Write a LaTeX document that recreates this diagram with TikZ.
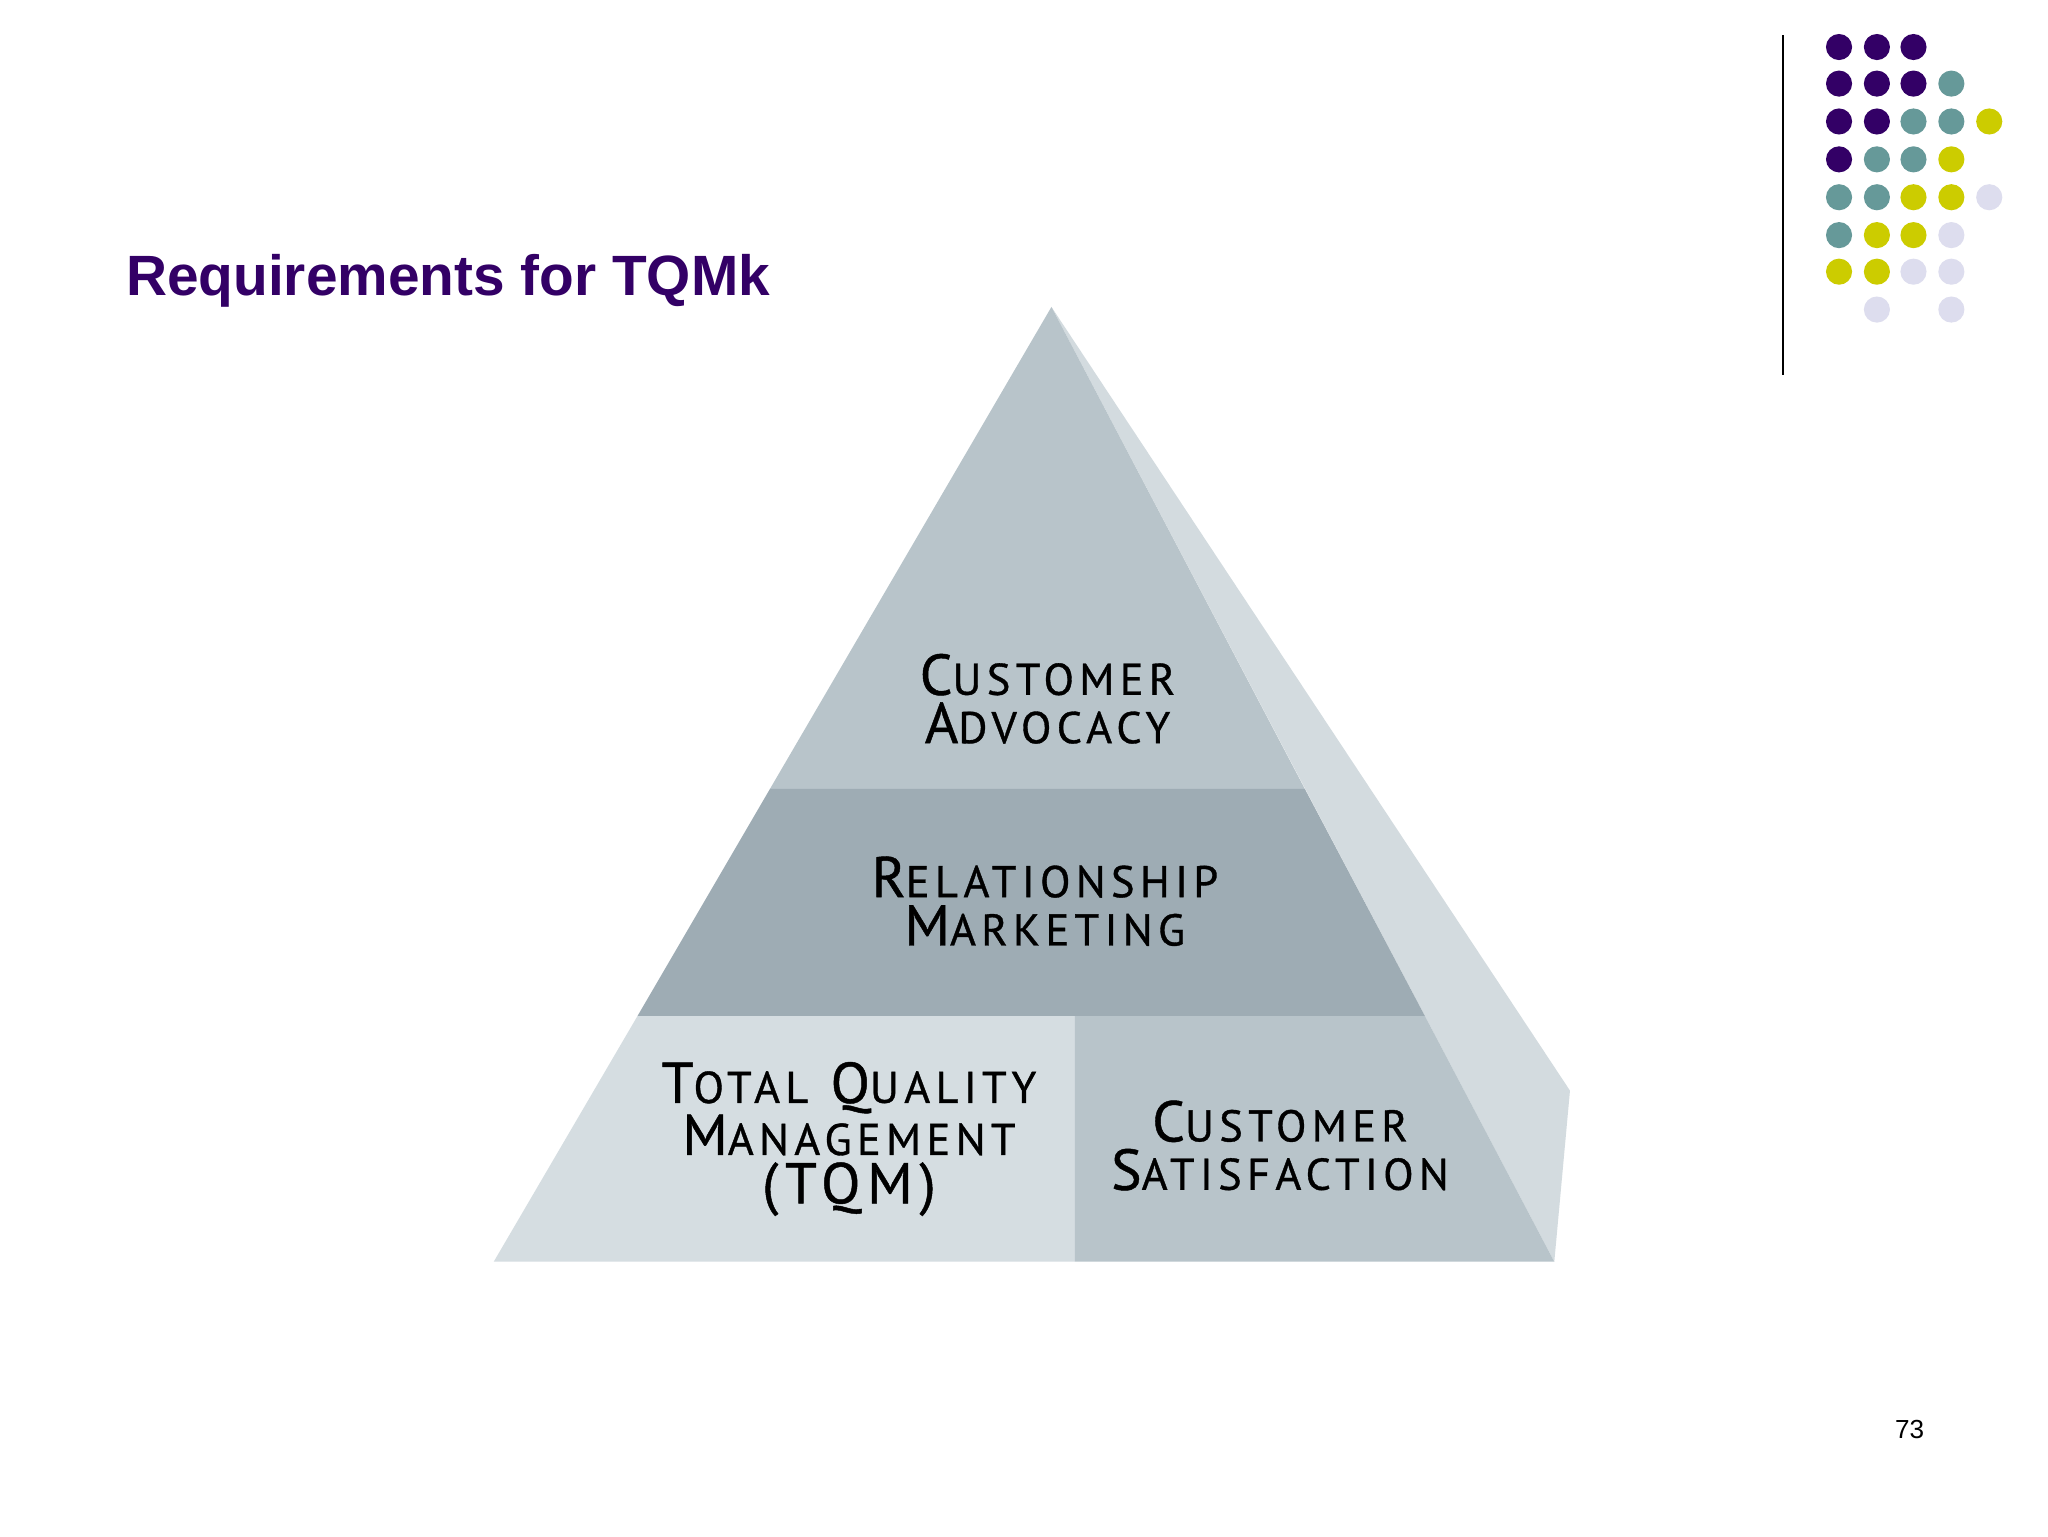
\documentclass[tikz,border=0pt]{standalone}
\usepackage{fontspec}
\setmainfont{Liberation Sans}
\newfontfamily\pyr[LetterSpace=12,FakeBold=0.8]{PT Sans}
\definecolor{pur}{HTML}{330066}
\definecolor{tea}{HTML}{669999}
\definecolor{yel}{HTML}{CCCC00}
\definecolor{lav}{HTML}{DDDDEE}
\definecolor{ptop}{HTML}{B8C4CA}
\definecolor{pmid}{HTML}{9EACB4}
\definecolor{pbl}{HTML}{D5DDE1}
\definecolor{pside}{HTML}{D3DBDF}
\newcommand{\Cap}[2]{{\fontsize{44}{37}\selectfont #1}{\fontsize{34}{37}\selectfont #2}}
\tikzset{dot/.style={circle,minimum size=20pt,inner sep=0pt},
  lbl/.style={font=\pyr\fontsize{44}{37}\selectfont,align=center,text=black}}
\begin{document}
\begin{tikzpicture}[x=1pt,y=-1pt]
\useasboundingbox (0,0) rectangle (1568,1176);
\fill[white] (0,0) rectangle (1568,1176);
\draw[line width=1.5pt] (1365,27) -- (1365,287);
\foreach \x/\y/\c in {1408/36/pur,1437/36/pur,1465/36/pur,
 1408/64/pur,1437/64/pur,1465/64/pur,1494/64/tea,
 1408/93/pur,1437/93/pur,1465/93/tea,1494/93/tea,1523/93/yel,
 1408/122/pur,1437/122/tea,1465/122/tea,1494/122/yel,
 1408/151/tea,1437/151/tea,1465/151/yel,1494/151/yel,1523/151/lav,
 1408/180/tea,1437/180/yel,1465/180/yel,1494/180/lav,
 1408/208/yel,1437/208/yel,1465/208/lav,1494/208/lav,
 1437/237/lav,1494/237/lav}
 \node[dot,fill=\c] at (\x,\y) {};
\node[anchor=base west,text=pur,font=\bfseries\fontsize{43.5}{43}\selectfont] (title) at (93,226) {Requirements for TQMk};
\node[anchor=base,font=\fontsize{20}{20}\selectfont] (pg) at (1462,1101) {73};
% pyramid
\fill[pside] (805,235) -- (1202,835) -- (1190,966) -- cycle;
\fill[ptop] (805,235) -- (589.5,604) -- (999,604) -- cycle;
\fill[pmid] (589.5,604) -- (488,778) -- (1091,778) -- (999,604) -- cycle;
\fill[pbl] (488,778) -- (378,966) -- (823,966) -- (823,778) -- cycle;
\fill[ptop] (823,778) -- (823,966) -- (1190,966) -- (1091,778) -- cycle;
\node[lbl] (ca) at (802,535) {\Cap{C}{USTOMER}\\\Cap{A}{DVOCACY}};
\node[lbl] (rm) at (800,690) {\Cap{R}{ELATIONSHIP}\\\Cap{M}{ARKETING}};
\node[lbl] (tqm) at (650,872) {\Cap{T}{OTAL} \Cap{Q}{UALITY}\\\Cap{M}{ANAGEMENT}\\(TQM)};
\node[lbl] (cs) at (980,877) {\Cap{C}{USTOMER}\\\Cap{S}{ATISFACTION}};
\end{tikzpicture}
\end{document}
